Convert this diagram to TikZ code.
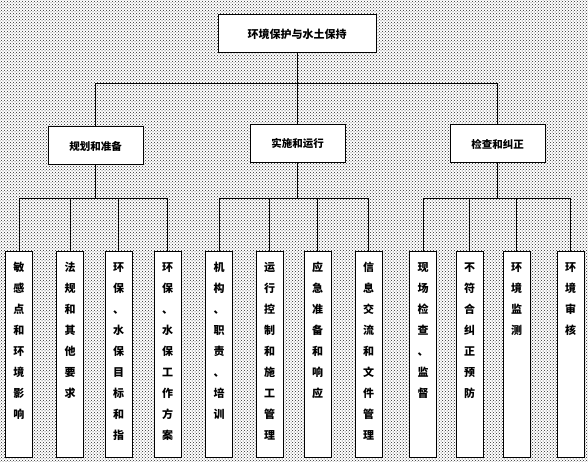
\documentclass[tikz,border=0pt]{standalone}
\usepackage{fontspec}
\setmainfont{Noto Sans CJK SC}
\usepackage{xcolor}
\usepackage{tikz}
\usetikzlibrary{calc,patterns}
\definecolor{edgeblack}{RGB}{0,0,0}
\definecolor{dotgrey}{RGB}{40,40,40}
\tikzset{
  topbox/.style={draw=edgeblack,line width=1pt,fill=white,minimum width=158pt,
    minimum height=38pt,inner sep=0pt,font=\fontsize{11}{13}\selectfont\bfseries},
  groupbox/.style={draw=edgeblack,line width=1pt,fill=white,minimum width=95pt,
    minimum height=38pt,inner sep=0pt,font=\fontsize{10.5}{13}\selectfont\bfseries},
  leafbox/.style={draw=edgeblack,line width=1pt,fill=white,anchor=north,
    text width=13pt,align=center,inner xsep=7pt,inner ysep=7pt,
    text height=13pt,text depth=179pt,
    font=\fontsize{11}{21}\selectfont\bfseries},
  link/.style={draw=edgeblack,line width=0.6pt}
}

\begin{document}
\begin{tikzpicture}[x=1pt,y=-1pt]
  % background
  \useasboundingbox (0,0) rectangle (588,462);
  \fill[pattern=crosshatch dots,pattern color=dotgrey] (0,0) rectangle (588,462);
  \coordinate (bar1) at (0,83);
  \coordinate (bar2) at (0,198);

  % boxes
  \node[topbox] (root) at (297,34) {环境保护与水土保持};
  \node[groupbox] (plan) at (95.5,146) {规划和准备};
  \node[groupbox] (run) at (297.5,144) {实施和运行};
  \node[groupbox] (check) at (497.5,144) {检查和纠正};

  \node[leafbox] (l1) at (19,251) {敏\\感\\点\\和\\环\\境\\影\\响};
  \node[leafbox] (l2) at (70,251) {法\\规\\和\\其\\他\\要\\求};
  \node[leafbox] (l3) at (118.5,251) {环\\保\\、\\水\\保\\目\\标\\和\\指};
  \node[leafbox] (l4) at (167.5,251) {环\\保\\、\\水\\保\\工\\作\\方\\案};
  \node[leafbox] (l5) at (219,251) {机\\构\\、\\职\\责\\、\\培\\训};
  \node[leafbox] (l6) at (269.5,251) {运\\行\\控\\制\\和\\施\\工\\管\\理};
  \node[leafbox] (l7) at (317.5,251) {应\\急\\准\\备\\和\\响\\应};
  \node[leafbox] (l8) at (368.5,251) {信\\息\\交\\流\\和\\文\\件\\管\\理};
  \node[leafbox] (l9) at (423,251) {现\\场\\检\\查\\、\\监\\督};
  \node[leafbox] (l10) at (469.5,251) {不\\符\\合\\纠\\正\\预\\防};
  \node[leafbox] (l11) at (516.5,251) {环\\境\\监\\测};
  \node[leafbox] (l12) at (570.5,251) {环\\境\\审\\核};

  % connectors
  \foreach \g in {plan,run,check}
    \draw[link] (root.south) -- (root.south |- bar1) -| (\g.north);
  \foreach \l in {l1,l2,l3,l4}
    \draw[link] (plan.south) -- (plan.south |- bar2) -| (\l.north);
  \foreach \l in {l5,l6,l7,l8}
    \draw[link] (run.south) -- (run.south |- bar2) -| (\l.north);
  \foreach \l in {l9,l10,l11,l12}
    \draw[link] (check.south) -- (check.south |- bar2) -| (\l.north);
\end{tikzpicture}
\end{document}
